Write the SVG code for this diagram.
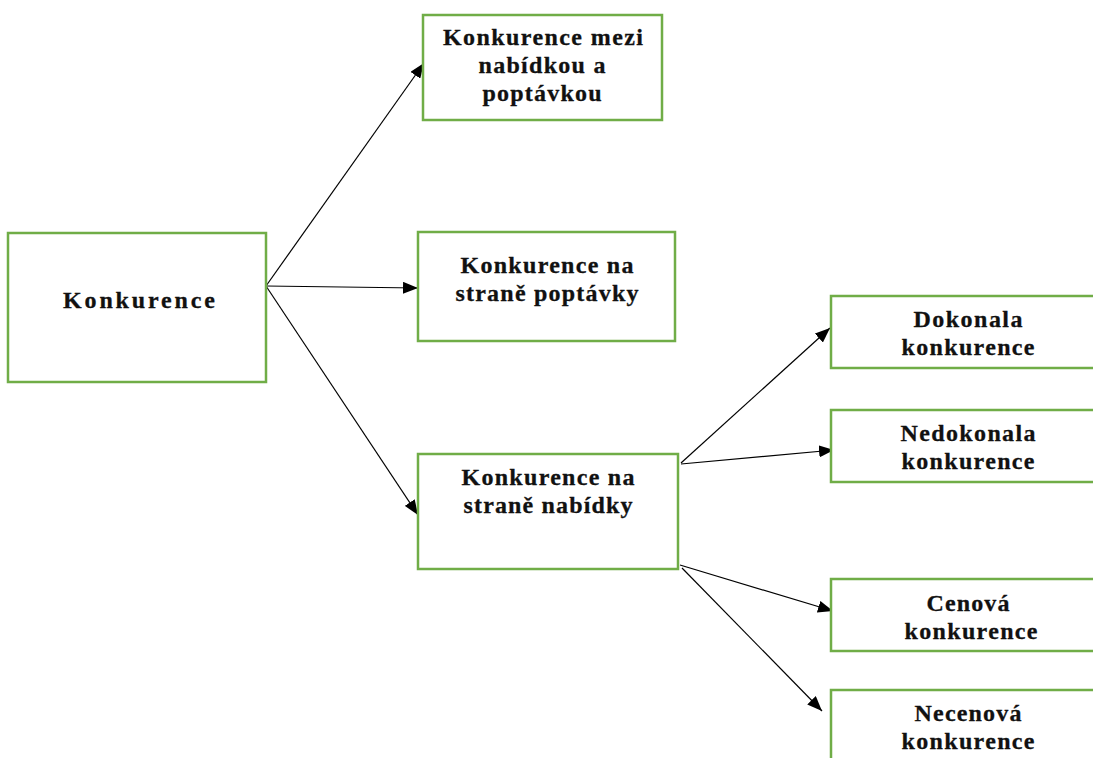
<svg xmlns="http://www.w3.org/2000/svg" width="1093" height="758" viewBox="0 0 1093 758">
<style>
.box{fill:#fff;stroke:#70ad47;stroke-width:2.5}
.t{font-family:"Liberation Serif","Times New Roman",serif;font-weight:bold;font-size:24px;fill:#111;stroke:#111;stroke-width:0.3;text-anchor:middle}
.c{stroke:#000;stroke-width:1.2;fill:none;marker-end:url(#ah)}
</style>
<defs>
<marker id="ah" markerWidth="16" markerHeight="12" refX="15" refY="6" orient="auto" markerUnits="userSpaceOnUse">
<path d="M0,0 L15,6 L0,12 Z" fill="#000"/>
</marker>
</defs>
<rect width="1093" height="758" fill="#fff"/>
<g id="connectors">
<line class="c" x1="266" y1="286" x2="424" y2="63"/>
<line class="c" x1="266" y1="286" x2="418" y2="288"/>
<line class="c" x1="266" y1="286" x2="418" y2="515"/>
<line class="c" x1="681" y1="463" x2="830" y2="328"/>
<line class="c" x1="681" y1="464" x2="834" y2="450"/>
<line class="c" x1="680" y1="565" x2="833" y2="611"/>
<line class="c" x1="682" y1="568" x2="822" y2="711"/>
</g>
<g id="n-konkurence">
<rect class="box" x="8" y="233" width="258" height="149"/>
<text class="t" x="139" y="308" textLength="152" lengthAdjust="spacing">Konkurence</text>
</g>
<g id="n-mezi">
<rect class="box" x="423" y="15" width="239" height="105"/>
<text class="t" x="543" y="45" textLength="200" lengthAdjust="spacing">Konkurence mezi</text>
<text class="t" x="542" y="73" textLength="127" lengthAdjust="spacing">nabídkou a</text>
<text class="t" x="542" y="101" textLength="119" lengthAdjust="spacing">poptávkou</text>
</g>
<g id="n-poptavka">
<rect class="box" x="418" y="232" width="257" height="109"/>
<text class="t" x="547" y="273" textLength="173" lengthAdjust="spacing">Konkurence na</text>
<text class="t" x="547" y="301" textLength="183" lengthAdjust="spacing">straně poptávky</text>
</g>
<g id="n-nabidka">
<rect class="box" x="418" y="454" width="260" height="115"/>
<text class="t" x="548" y="485" textLength="173" lengthAdjust="spacing">Konkurence na</text>
<text class="t" x="548" y="513" textLength="169" lengthAdjust="spacing">straně nabídky</text>
</g>
<g id="n-dokonala">
<rect class="box" x="831" y="296" width="270" height="72"/>
<text class="t" x="968" y="327" textLength="109" lengthAdjust="spacing">Dokonala</text>
<text class="t" x="968" y="355" textLength="133" lengthAdjust="spacing">konkurence</text>
</g>
<g id="n-nedokonala">
<rect class="box" x="831" y="410" width="270" height="72"/>
<text class="t" x="968" y="441" textLength="135" lengthAdjust="spacing">Nedokonala</text>
<text class="t" x="968" y="469" textLength="133" lengthAdjust="spacing">konkurence</text>
</g>
<g id="n-cenova">
<rect class="box" x="831" y="579" width="270" height="72"/>
<text class="t" x="968" y="611" textLength="83" lengthAdjust="spacing">Cenová</text>
<text class="t" x="971" y="639" textLength="133" lengthAdjust="spacing">konkurence</text>
</g>
<g id="n-necenova">
<rect class="box" x="831" y="690" width="270" height="90"/>
<text class="t" x="968" y="721" textLength="107" lengthAdjust="spacing">Necenová</text>
<text class="t" x="968" y="749" textLength="133" lengthAdjust="spacing">konkurence</text>
</g>
</svg>
